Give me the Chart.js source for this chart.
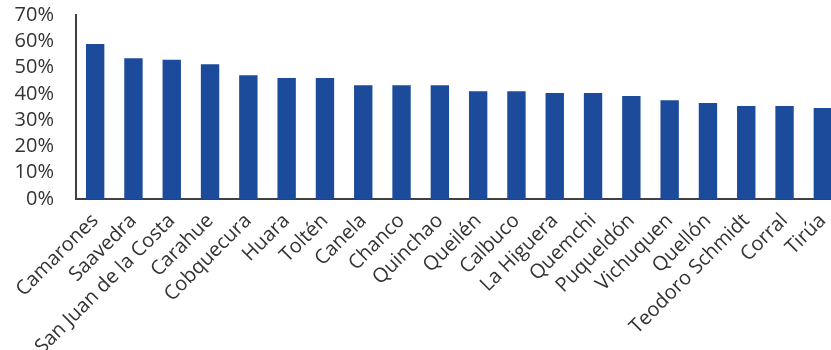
<!DOCTYPE html>
<html>
<head>
<meta charset="utf-8">
<script src="https://cdn.jsdelivr.net/npm/chart.js@4.4.1/dist/chart.umd.min.js"></script>
<style>
  html, body { margin: 0; padding: 0; background: #fff; overflow: hidden; }
  #wrap { position: relative; width: 842px; height: 350px; }
</style>
</head>
<body>
<div id="wrap"><canvas id="chart"></canvas></div>
<script>
const comunas = ['Camarones', 'Saavedra', 'San Juan de la Costa', 'Carahue', 'Cobquecura', 'Huara', 'Toltén',
    'Canela', 'Chanco', 'Quinchao', 'Queilén', 'Calbuco', 'La Higuera', 'Quemchi', 'Puqueldón',
    'Vichuquen', 'Quellón', 'Teodoro Schmidt', 'Corral', 'Tirúa'];
const porcentajes = [59, 53.5, 53, 51.3, 47.1, 46, 46, 43.3, 43.3, 43.3, 41, 41, 40.3, 40.3, 39.2,
    37.6, 36.5, 35.4, 35.4, 34.6];
const yTicks = [0, 10, 20, 30, 40, 50, 60, 70];

const barColor = '#1b4b9a';
const textColor = '#333333';
const axisColor = '#404040';
const fontFamily = '"Open Sans", "Noto Sans", sans-serif';

new Chart(document.getElementById('chart'), {
    type: 'bar',
    data: {
        labels: comunas,
        datasets: [{
            data: porcentajes,
            backgroundColor: barColor,
            barPercentage: 0.48,
            categoryPercentage: 1
        }]
    },
    options: {
        responsive: true,
        maintainAspectRatio: false,
        animation: false,
        layout: { padding: { top: 15, right: 0, left: 0, bottom: 0 } },
        plugins: {
            legend: { display: false },
            tooltip: { enabled: false }
        },
        scales: {
            x: {
                grid: { display: false },
                border: { display: true, color: axisColor, width: 2 },
                ticks: {
                    color: textColor,
                    font: { family: fontFamily, size: 20 },
                    minRotation: 45,
                    maxRotation: 45,
                    autoSkip: false,
                    padding: 2
                },
                afterFit: scale => { scale.height = 151; }
            },
            y: {
                min: 0,
                max: 70,
                grid: { display: false },
                border: { display: true, color: axisColor, width: 2 },
                afterBuildTicks: scale => { scale.ticks = yTicks.map(v => ({ value: v })); },
                ticks: {
                    color: textColor,
                    font: { family: fontFamily, size: 20 },
                    padding: 14,
                    autoSkip: false,
                    callback: v => v + '%'
                },
                afterFit: scale => {
                    scale.width = 76;
                    scale.paddingTop = 0;
                }
            }
        }
    }
});
</script>
</body>
</html>
